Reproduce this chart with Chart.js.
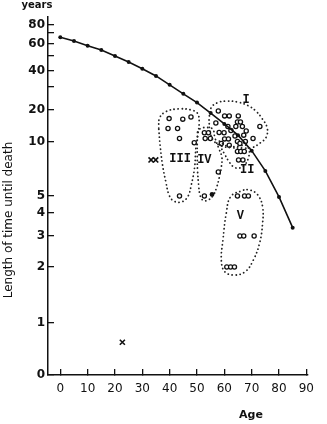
<!DOCTYPE html>
<html>
<head>
<meta charset="utf-8">
<script src="https://cdn.jsdelivr.net/npm/chart.js@4.4.1/dist/chart.umd.min.js"></script>
<style>
  html, body { margin: 0; padding: 0; background: #fff; }
  #wrap { width: 327px; height: 424px; position: relative; }
</style>
</head>
<body>
<div id="wrap"><canvas id="deathChart"></canvas></div>
<script>
// Expected remaining years at each age (the solid curve)
const lifeAges = [0, 5, 10, 15, 20, 25, 30, 35, 40, 45, 50, 55, 60, 65, 70, 75, 80, 85];
const lifeYears = [65.9, 62.5, 58.5, 54.8, 50.0, 45.7, 41.4, 36.6, 31.2, 26.6, 22.8, 18.7, 14.8, 11.6, 8.95, 6.9, 4.94, 3.33];

// Single cases (open circles), grouped III, IV, I, II, V
const caseAges = [
  39.8, 44.8, 47.8, 39.4, 42.9, 43.6, 49.0, 43.6,
  52.7, 57.8, 52.7, 54.2, 53.0, 54.9,
  57.8, 60.1, 61.8, 65.1, 64.8, 65.9, 56.9, 61.3, 64.2, 66.6, 73.0, 58.1, 59.9,
  62.4, 68.0, 60.1, 61.5, 63.9, 67.1, 70.5, 58.9, 61.8, 64.8, 65.7, 67.7,
  64.8, 66.0, 67.3, 65.2, 66.8,
  64.8, 67.4, 68.8, 65.7, 67.1, 70.9, 60.9, 62.3, 63.7
];
const caseYears = [
  16.6, 16.4, 17.2, 13.4, 13.4, 10.8, 9.9, 5.0,
  5.0, 6.8, 12.2, 12.2, 10.8, 10.8,
  19.6, 17.6, 17.6, 17.6, 15.4, 15.4, 15.1, 14.0, 14.0, 14.0, 14.0, 12.3, 12.2,
  12.8, 12.7, 10.7, 10.7, 11.4, 11.6, 10.8, 9.8, 9.6, 10.1, 9.8, 10.1,
  8.85, 8.85, 8.85, 7.94, 7.94,
  5.0, 5.0, 5.0, 3.0, 3.0, 3.0, 2.0, 2.0, 2.0
];

// filled dot and the "x" cases
const dotAges = [55.5];
const dotYears = [5.1];
const crossAges = [22.7, 33.2, 34.9];
const crossYears = [0.63, 7.94, 7.94];

// dotted outlines round each group
const regionNames = ['III', 'IV', 'I', 'II', 'V'];
const outlineAges = [
  [36.0, 36.3, 38.6, 43.3, 47.9, 50.2, 50.8, 50.3, 49.6, 49.1, 47.9, 46.7, 44.4, 41.5, 39.8, 38.6, 37.4, 36.5],
  [50.2, 51.3, 53.7, 55.8, 56.5, 57.9, 59.1, 58.9, 58.2, 57.2, 56.0, 54.1, 52.3, 51.1, 50.6, 50.2, 50.1, 50.1],
  [54.4, 55.1, 57.6, 61.0, 64.9, 68.7, 71.5, 73.9, 75.7, 75.3, 73.2, 70.1, 66.6, 62.4, 58.9, 56.2, 54.8],
  [58.2, 61.0, 65.2, 68.0, 69.1, 68.9, 67.7, 65.6, 63.5, 61.7, 60.3, 58.9],
  [67.1, 62.4, 60.7, 59.5, 58.9, 60.1, 63.6, 67.7, 70.6, 72.9, 74.0, 74.0, 72.3, 69.4]
];
const outlineYears = [
  [13.5, 16.8, 19.3, 20.4, 20.0, 18.6, 15.5, 11.6, 9.26, 7.16, 5.76, 4.98, 4.63, 4.68, 5.06, 6.0, 7.44, 9.6],
  [12.4, 13.4, 13.7, 13.2, 11.1, 9.26, 8.25, 7.25, 6.38, 5.6, 5.06, 4.74, 4.71, 5.06, 5.76, 6.98, 8.46, 10.0],
  [16.1, 20.7, 22.8, 23.4, 23.0, 21.6, 19.6, 16.5, 13.5, 11.1, 9.9, 9.3, 9.26, 9.3, 9.5, 10.2, 12.4],
  [10.2, 9.5, 9.47, 9.6, 8.97, 8.25, 7.53, 7.16, 7.25, 7.77, 8.46, 9.26],
  [5.4, 4.98, 3.98, 2.85, 2.19, 1.89, 1.81, 1.89, 2.19, 2.73, 3.52, 4.34, 5.06, 5.4]
];
const regionLabelAges = [43.8, 52.7, 68.0, 68.4, 65.9];
const regionLabelYears = [8.05, 7.94, 23.9, 7.0, 3.85];

// axis ticks
const xTicks = [0, 10, 20, 30, 40, 50, 60, 70, 80, 90];
const yTicks = [0, 1, 2, 3, 4, 5, 10, 20, 30, 40, 50, 60, 70, 80];
const yTickLabels = ['0', '1', '2', '3', '4', '5', '10', '20', '', '40', '', '60', '', '80'];

// the printed y axis is hand drawn: near log below 10, squeezed above
const yStops = [0, 1, 2, 3, 4, 5, 10, 20, 30, 40, 50, 60, 70, 80, 90];
const yStopPos = [0, 52, 108, 139, 162, 179, 233, 265, 288, 304, 319, 331, 342, 350, 358].map(h => h / 358);

function warp(v) {
    if (v <= 0) return 0;
    for (let i = 1; i < yStops.length; i++) {
        if (v <= yStops[i] || i === yStops.length - 1) {
            const a = yStops[i - 1], b = yStops[i];
            const t = a > 0 ? Math.log(v / a) / Math.log(b / a) : (v - a) / (b - a);
            return yStopPos[i - 1] + t * (yStopPos[i] - yStopPos[i - 1]);
        }
    }
}

function unwarp(f) {
    if (f <= 0) return 0;
    for (let i = 1; i < yStopPos.length; i++) {
        if (f <= yStopPos[i] || i === yStopPos.length - 1) {
            const a = yStops[i - 1], b = yStops[i];
            const t = (f - yStopPos[i - 1]) / (yStopPos[i] - yStopPos[i - 1]);
            return a > 0 ? a * Math.pow(b / a, t) : a + t * (b - a);
        }
    }
}

class WarpScale extends Chart.LinearScale {
    getPixelForValue(value) {
        return this.bottom - warp(value) * (this.bottom - this.top);
    }
    getValueForPixel(pixel) {
        return unwarp((this.bottom - pixel) / (this.bottom - this.top));
    }
}
WarpScale.id = 'warp';
WarpScale.defaults = {};
Chart.register(WarpScale);

function pts(xs, ys) {
    return xs.map((x, i) => ({ x: x, y: ys[i] }));
}

// close each outline by repeating its first point
const outlineSets = regionNames.map((name, i) => ({
    label: 'Group ' + name,
    data: pts(outlineAges[i].concat(outlineAges[i][0]), outlineYears[i].concat(outlineYears[i][0])),
    showLine: true,
    borderColor: '#222',
    borderWidth: 1.8,
    borderDash: [0.1, 3.9],
    borderCapStyle: 'round',
    tension: 0.4,
    pointRadius: 0,
    fill: false
}));

// labels for the groups plus the axis titles
const textPlugin = {
    id: 'textPlugin',
    afterDatasetsDraw(chart) {
        const ctx = chart.ctx;
        const x = chart.scales.x, y = chart.scales.y;
        ctx.save();
        ctx.fillStyle = '#111';
        ctx.textAlign = 'center';
        ctx.textBaseline = 'middle';
        ctx.font = 'bold 12px "Liberation Mono"';
        regionNames.forEach((name, i) => {
            ctx.fillText(name, x.getPixelForValue(regionLabelAges[i]), y.getPixelForValue(regionLabelYears[i]));
        });
        ctx.font = 'bold 10px "DejaVu Sans"';
        ctx.fillText('years', 37, 5);
        ctx.font = 'bold 11px "DejaVu Sans"';
        ctx.fillText('Age', 251, 415);
        ctx.translate(9, 220);
        ctx.rotate(-Math.PI / 2);
        ctx.font = '12px "DejaVu Sans"';
        ctx.fillText('Length of time until death', 0, 0);
        ctx.restore();
    }
};

const ctx = document.getElementById('deathChart').getContext('2d');
const deathChart = new Chart(ctx, {
    type: 'scatter',
    data: {
        datasets: outlineSets.concat([
            {
                label: 'Life expectancy',
                data: pts(lifeAges, lifeYears),
                showLine: true,
                borderColor: '#111',
                borderWidth: 1.6,
                tension: 0,
                pointRadius: 2,
                pointBackgroundColor: '#111',
                pointBorderWidth: 0
            },
            {
                label: 'Cases',
                data: pts(caseAges, caseYears),
                pointStyle: 'circle',
                pointRadius: 2.1,
                pointBorderWidth: 1.3,
                pointBorderColor: '#111',
                pointBackgroundColor: '#fff'
            },
            {
                label: 'Filled',
                data: pts(dotAges, dotYears),
                pointRadius: 2.4,
                pointBorderWidth: 0,
                pointBackgroundColor: '#111'
            },
            {
                label: 'x cases',
                data: pts(crossAges, crossYears),
                pointStyle: 'crossRot',
                pointRadius: 3.6,
                pointBorderWidth: 1.6,
                pointBorderColor: '#111'
            }
        ])
    },
    options: {
        responsive: true,
        maintainAspectRatio: false,
        animation: false,
        layout: { padding: { top: 17, right: 7, bottom: 0, left: 0 } },
        plugins: { legend: { display: false }, tooltip: { enabled: false } },
        scales: {
            x: {
                type: 'linear',
                position: 'bottom',
                min: -4.5,
                max: 90.3,
                bounds: 'data',
                afterBuildTicks: axis => { axis.ticks = xTicks.map(v => ({ value: v })); },
                afterFit: axis => { axis.height = 49; },
                grid: { drawOnChartArea: false, tickLength: -6, color: '#111', lineWidth: 1.3 },
                border: { color: '#111', width: 1.5 },
                ticks: {
                    autoSkip: false,
                    maxRotation: 0,
                    padding: 13,
                    color: '#111',
                    font: { family: 'DejaVu Sans', size: 12 }
                }
            },
            y: {
                type: 'warp',
                position: 'left',
                min: 0,
                max: 90,
                bounds: 'data',
                afterBuildTicks: axis => { axis.ticks = yTicks.map(v => ({ value: v })); },
                afterFit: axis => { axis.width = 48; },
                grid: { drawOnChartArea: false, tickLength: -6, color: '#111', lineWidth: 1.3 },
                border: { color: '#111', width: 1.5 },
                ticks: {
                    autoSkip: false,
                    padding: 9,
                    color: '#111',
                    font: { family: 'DejaVu Sans', size: 12, weight: 'bold' },
                    callback: (value, index) => yTickLabels[index]
                }
            }
        }
    },
    plugins: [textPlugin]
});
</script>
</body>
</html>
